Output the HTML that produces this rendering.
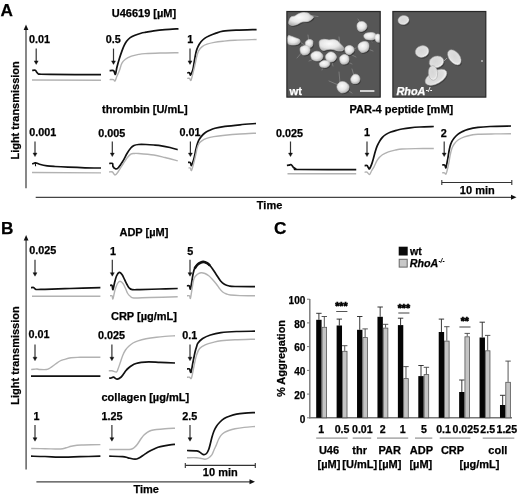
<!DOCTYPE html>
<html><head><meta charset="utf-8"><style>
html,body{margin:0;padding:0;background:#fff;}
svg{display:block;filter:grayscale(1);}
text{font-family:"Liberation Sans",sans-serif;font-weight:bold;fill:#000;stroke:#000;stroke-width:0.25px;}
</style></head><body>
<svg width="520" height="500" viewBox="0 0 520 500">
<rect width="520" height="500" fill="#fff"/>
<text x="0.5" y="16.3" font-size="17.2" text-anchor="start" >A</text>
<line x1="26" y1="28" x2="26" y2="188.3" stroke="#555" stroke-width="1.4"/>
<path d="M23.6 30L28.4 30L26 24.5Z" fill="#111"/>
<text x="19.3" y="110.4" font-size="11.0" text-anchor="middle" transform="rotate(-90 19.3 110.4)">Light transmission</text>
<line x1="35.7" y1="197.3" x2="512" y2="197.3" stroke="#444" stroke-width="1.3"/>
<path d="M511 194.8L511 199.8L516.5 197.3Z" fill="#111"/>
<text x="269.6" y="208.5" font-size="11.0" text-anchor="middle" >Time</text>
<line x1="441.8" y1="182.5" x2="511.8" y2="182.5" stroke="#333" stroke-width="1.1"/>
<line x1="441.8" y1="180" x2="441.8" y2="185" stroke="#333" stroke-width="1.1"/>
<line x1="511.8" y1="180" x2="511.8" y2="185" stroke="#333" stroke-width="1.1"/>
<text x="477.3" y="193.8" font-size="11.0" text-anchor="middle" >10 min</text>
<text x="144.0" y="17.0" font-size="11.0" text-anchor="middle" >U46619 [µM]</text>
<text x="144.8" y="112.9" font-size="11.0" text-anchor="middle" >thrombin [U/mL]</text>
<text x="401.4" y="112.7" font-size="11.0" text-anchor="middle" >PAR-4 peptide [mM]</text>
<text x="29.0" y="43.4" font-size="10.8" text-anchor="start" >0.01</text>
<text x="105.8" y="43.3" font-size="10.8" text-anchor="start" >0.5</text>
<text x="187.3" y="43.3" font-size="10.8" text-anchor="start" >1</text>
<line x1="36.2" y1="48.6" x2="36.2" y2="61.7" stroke="#333" stroke-width="1.2"/>
<path d="M34.2 60.9L38.2 60.9L36.2 64.4Z" fill="#111" stroke="#111" stroke-width="0.4" stroke-linejoin="round"/>
<line x1="113.5" y1="48.6" x2="113.5" y2="61.7" stroke="#333" stroke-width="1.2"/>
<path d="M111.5 60.9L115.5 60.9L113.5 64.4Z" fill="#111" stroke="#111" stroke-width="0.4" stroke-linejoin="round"/>
<line x1="190.0" y1="48.6" x2="190.0" y2="61.7" stroke="#333" stroke-width="1.2"/>
<path d="M188.0 60.9L192.0 60.9L190.0 64.4Z" fill="#111" stroke="#111" stroke-width="0.4" stroke-linejoin="round"/>
<path d="M32.20 70.40C32.72 70.38 34.57 70.03 35.30 70.30C36.03 70.57 36.15 71.45 36.60 72.00C37.05 72.55 37.43 73.23 38.00 73.60C38.57 73.97 38.00 74.07 40.00 74.20C42.00 74.33 39.83 74.32 50.00 74.40C60.17 74.48 92.50 74.65 101.00 74.70" fill="none" stroke="#111" stroke-width="1.70" stroke-linejoin="round" stroke-linecap="butt"/>
<path d="M32.0 80.0L101.0 80.2" fill="none" stroke="#b2b2b2" stroke-width="1.40" stroke-linejoin="round" stroke-linecap="butt"/>
<path d="M109.60 70.60C110.25 70.60 112.68 70.28 113.50 70.60C114.32 70.92 114.17 71.90 114.50 72.50C114.83 73.10 115.08 75.12 115.50 74.20C115.92 73.28 116.35 69.60 117.00 67.00C117.65 64.40 118.60 61.20 119.40 58.60C120.20 56.00 121.00 53.60 121.80 51.40C122.60 49.20 123.40 47.10 124.20 45.40C125.00 43.70 125.60 42.50 126.60 41.20C127.60 39.90 128.80 38.60 130.20 37.60C131.60 36.60 133.20 35.93 135.00 35.20C136.80 34.47 139.17 33.70 141.00 33.20C142.83 32.70 143.87 32.60 146.00 32.20C148.13 31.80 150.63 31.23 153.80 30.80C156.97 30.37 160.88 29.93 165.00 29.60C169.12 29.27 176.25 28.93 178.50 28.80" fill="none" stroke="#111" stroke-width="1.70" stroke-linejoin="round" stroke-linecap="butt"/>
<path d="M109.60 79.60C110.25 79.60 112.60 79.37 113.50 79.60C114.40 79.83 114.42 81.60 115.00 81.00C115.58 80.40 116.27 77.73 117.00 76.00C117.73 74.27 118.60 72.70 119.40 70.60C120.20 68.50 120.80 65.30 121.80 63.40C122.80 61.50 123.80 60.40 125.40 59.20C127.00 58.00 129.20 57.00 131.40 56.20C133.60 55.40 136.33 54.83 138.60 54.40C140.87 53.97 141.43 53.83 145.00 53.60C148.57 53.37 154.42 53.15 160.00 53.00C165.58 52.85 175.42 52.75 178.50 52.70" fill="none" stroke="#b2b2b2" stroke-width="1.40" stroke-linejoin="round" stroke-linecap="butt"/>
<path d="M187.20 72.80C187.58 72.80 188.95 72.43 189.50 72.80C190.05 73.17 189.98 75.37 190.50 75.00C191.02 74.63 192.05 72.33 192.60 70.60C193.15 68.87 193.40 66.80 193.80 64.60C194.20 62.40 194.60 59.60 195.00 57.40C195.40 55.20 195.70 53.20 196.20 51.40C196.70 49.60 197.20 48.20 198.00 46.60C198.80 45.00 199.90 43.17 201.00 41.80C202.10 40.43 203.20 39.40 204.60 38.40C206.00 37.40 207.60 36.63 209.40 35.80C211.20 34.97 213.13 34.17 215.40 33.40C217.67 32.63 219.48 31.73 223.00 31.20C226.52 30.67 230.90 30.47 236.50 30.20C242.10 29.93 253.25 29.70 256.60 29.60" fill="none" stroke="#111" stroke-width="1.70" stroke-linejoin="round" stroke-linecap="butt"/>
<path d="M187.20 78.40C187.58 78.40 188.87 78.07 189.50 78.40C190.13 78.73 190.42 81.30 191.00 80.40C191.58 79.50 192.33 75.63 193.00 73.00C193.67 70.37 194.37 67.40 195.00 64.60C195.63 61.80 196.20 58.50 196.80 56.20C197.40 53.90 197.70 52.40 198.60 50.80C199.50 49.20 200.80 47.70 202.20 46.60C203.60 45.50 205.00 44.90 207.00 44.20C209.00 43.50 211.53 42.90 214.20 42.40C216.87 41.90 219.53 41.57 223.00 41.20C226.47 40.83 229.40 40.48 235.00 40.20C240.60 39.92 253.00 39.62 256.60 39.50" fill="none" stroke="#b2b2b2" stroke-width="1.40" stroke-linejoin="round" stroke-linecap="butt"/>
<text x="29.2" y="136.4" font-size="10.8" text-anchor="start" >0.001</text>
<text x="98.3" y="136.8" font-size="10.8" text-anchor="start" >0.005</text>
<text x="179.5" y="136.4" font-size="10.8" text-anchor="start" >0.01</text>
<text x="275.9" y="136.5" font-size="10.8" text-anchor="start" >0.025</text>
<text x="364.0" y="136.4" font-size="10.8" text-anchor="start" >1</text>
<text x="440.8" y="136.5" font-size="10.8" text-anchor="start" >2</text>
<line x1="35.0" y1="141.5" x2="35.0" y2="153.9" stroke="#333" stroke-width="1.2"/>
<path d="M33.0 153.1L37.0 153.1L35.0 156.6Z" fill="#111" stroke="#111" stroke-width="0.4" stroke-linejoin="round"/>
<line x1="112.3" y1="141.5" x2="112.3" y2="153.9" stroke="#333" stroke-width="1.2"/>
<path d="M110.3 153.1L114.3 153.1L112.3 156.6Z" fill="#111" stroke="#111" stroke-width="0.4" stroke-linejoin="round"/>
<line x1="190.4" y1="141.5" x2="190.4" y2="153.9" stroke="#333" stroke-width="1.2"/>
<path d="M188.4 153.1L192.4 153.1L190.4 156.6Z" fill="#111" stroke="#111" stroke-width="0.4" stroke-linejoin="round"/>
<line x1="290.5" y1="141.5" x2="290.5" y2="153.9" stroke="#333" stroke-width="1.2"/>
<path d="M288.5 153.1L292.5 153.1L290.5 156.6Z" fill="#111" stroke="#111" stroke-width="0.4" stroke-linejoin="round"/>
<line x1="367.0" y1="141.5" x2="367.0" y2="153.9" stroke="#333" stroke-width="1.2"/>
<path d="M365.0 153.1L369.0 153.1L367.0 156.6Z" fill="#111" stroke="#111" stroke-width="0.4" stroke-linejoin="round"/>
<line x1="444.2" y1="141.5" x2="444.2" y2="153.9" stroke="#333" stroke-width="1.2"/>
<path d="M442.2 153.1L446.2 153.1L444.2 156.6Z" fill="#111" stroke="#111" stroke-width="0.4" stroke-linejoin="round"/>
<path d="M32.20 164.00C32.50 163.87 33.42 163.40 34.00 163.20C34.58 163.00 34.78 162.63 35.70 162.80C36.62 162.97 37.58 163.70 39.50 164.20C41.42 164.70 44.63 165.42 47.20 165.80C49.77 166.18 51.43 166.27 54.90 166.50C58.37 166.73 62.98 166.98 68.00 167.20C73.02 167.42 79.50 167.67 85.00 167.80C90.50 167.93 98.33 167.97 101.00 168.00" fill="none" stroke="#111" stroke-width="1.70" stroke-linejoin="round" stroke-linecap="butt"/>
<line x1="35.3" y1="163" x2="35.6" y2="166.3" stroke="#111" stroke-width="1.1"/>
<path d="M32.0 172.5L101.0 172.9" fill="none" stroke="#b2b2b2" stroke-width="1.40" stroke-linejoin="round" stroke-linecap="butt"/>
<path d="M109.20 163.50C109.75 163.50 111.87 163.00 112.50 163.50C113.13 164.00 112.52 165.62 113.00 166.50C113.48 167.38 114.57 168.55 115.40 168.80C116.23 169.05 116.73 169.30 118.00 168.00C119.27 166.70 121.50 163.42 123.00 161.00C124.50 158.58 125.70 155.67 127.00 153.50C128.30 151.33 129.63 149.33 130.80 148.00C131.97 146.67 132.72 146.08 134.00 145.50C135.28 144.92 136.50 144.67 138.50 144.50C140.50 144.33 143.42 144.42 146.00 144.50C148.58 144.58 151.42 144.78 154.00 145.00C156.58 145.22 158.83 145.38 161.50 145.80C164.17 146.22 167.30 146.87 170.00 147.50C172.70 148.13 176.42 149.25 177.70 149.60" fill="none" stroke="#111" stroke-width="1.70" stroke-linejoin="round" stroke-linecap="butt"/>
<path d="M109.00 172.00C109.58 172.00 111.50 171.50 112.50 172.00C113.50 172.50 114.08 175.00 115.00 175.00C115.92 175.00 116.67 173.83 118.00 172.00C119.33 170.17 121.50 166.33 123.00 164.00C124.50 161.67 125.70 159.63 127.00 158.00C128.30 156.37 129.63 154.95 130.80 154.20C131.97 153.45 132.72 153.62 134.00 153.50C135.28 153.38 135.20 153.25 138.50 153.50C141.80 153.75 149.38 154.33 153.80 155.00C158.22 155.67 161.02 156.53 165.00 157.50C168.98 158.47 175.58 160.25 177.70 160.80" fill="none" stroke="#b2b2b2" stroke-width="1.40" stroke-linejoin="round" stroke-linecap="butt"/>
<path d="M188.00 162.40C188.33 162.40 189.53 162.13 190.00 162.40C190.47 162.67 190.55 163.48 190.80 164.00C191.05 164.52 191.07 166.07 191.50 165.50C191.93 164.93 192.88 162.22 193.40 160.60C193.92 158.98 194.20 157.60 194.60 155.80C195.00 154.00 195.40 151.60 195.80 149.80C196.20 148.00 196.50 146.60 197.00 145.00C197.50 143.40 198.10 141.60 198.80 140.20C199.50 138.80 200.20 137.80 201.20 136.60C202.20 135.40 203.50 134.00 204.80 133.00C206.10 132.00 207.30 131.40 209.00 130.60C210.70 129.80 212.33 128.90 215.00 128.20C217.67 127.50 220.83 126.97 225.00 126.40C229.17 125.83 234.83 125.28 240.00 124.80C245.17 124.32 253.33 123.72 256.00 123.50" fill="none" stroke="#111" stroke-width="1.70" stroke-linejoin="round" stroke-linecap="butt"/>
<path d="M188.50 168.00C188.80 168.00 189.80 167.58 190.30 168.00C190.80 168.42 190.97 171.17 191.50 170.50C192.03 169.83 192.78 166.65 193.50 164.00C194.22 161.35 195.22 157.17 195.80 154.60C196.38 152.03 196.50 150.40 197.00 148.60C197.50 146.80 198.00 145.10 198.80 143.80C199.60 142.50 200.50 141.70 201.80 140.80C203.10 139.90 204.60 139.10 206.60 138.40C208.60 137.70 210.73 137.13 213.80 136.60C216.87 136.07 220.63 135.63 225.00 135.20C229.37 134.77 234.83 134.33 240.00 134.00C245.17 133.67 253.33 133.33 256.00 133.20" fill="none" stroke="#b2b2b2" stroke-width="1.40" stroke-linejoin="round" stroke-linecap="butt"/>
<path d="M286.90 165.40C287.25 165.37 288.35 165.33 289.00 165.20C289.65 165.07 290.30 164.55 290.80 164.60C291.30 164.65 291.55 165.02 292.00 165.50C292.45 165.98 292.83 166.92 293.50 167.50C294.17 168.08 294.92 168.67 296.00 169.00C297.08 169.33 289.96 169.40 300.00 169.50C310.04 169.60 346.88 169.58 356.25 169.60" fill="none" stroke="#111" stroke-width="1.70" stroke-linejoin="round" stroke-linecap="butt"/>
<path d="M287.5 173.7L356.2 173.8" fill="none" stroke="#b2b2b2" stroke-width="1.40" stroke-linejoin="round" stroke-linecap="butt"/>
<path d="M364.60 165.60C365.00 165.60 366.38 165.28 367.00 165.60C367.62 165.92 367.88 166.97 368.30 167.50C368.72 168.03 368.95 169.32 369.50 168.80C370.05 168.28 370.95 166.13 371.60 164.40C372.25 162.67 372.80 160.50 373.40 158.40C374.00 156.30 374.60 153.80 375.20 151.80C375.80 149.80 376.30 148.10 377.00 146.40C377.70 144.70 378.50 143.10 379.40 141.60C380.30 140.10 381.30 138.60 382.40 137.40C383.50 136.20 384.60 135.30 386.00 134.40C387.40 133.50 389.00 132.70 390.80 132.00C392.60 131.30 394.93 130.70 396.80 130.20C398.67 129.70 399.80 129.40 402.00 129.00C404.20 128.60 407.00 128.13 410.00 127.80C413.00 127.47 416.03 127.22 420.00 127.00C423.97 126.78 431.50 126.58 433.80 126.50" fill="none" stroke="#111" stroke-width="1.70" stroke-linejoin="round" stroke-linecap="butt"/>
<path d="M364.60 172.20C365.00 172.20 366.18 171.82 367.00 172.20C367.82 172.58 368.75 174.70 369.50 174.50C370.25 174.30 370.75 172.28 371.50 171.00C372.25 169.72 372.98 168.70 374.00 166.80C375.02 164.90 376.20 161.60 377.60 159.60C379.00 157.60 380.60 156.10 382.40 154.80C384.20 153.50 386.20 152.60 388.40 151.80C390.60 151.00 393.33 150.47 395.60 150.00C397.87 149.53 398.77 149.23 402.00 149.00C405.23 148.77 409.70 148.68 415.00 148.60C420.30 148.52 430.67 148.52 433.80 148.50" fill="none" stroke="#b2b2b2" stroke-width="1.40" stroke-linejoin="round" stroke-linecap="butt"/>
<path d="M442.20 165.00C442.58 165.00 443.98 164.78 444.50 165.00C445.02 165.22 445.05 165.88 445.30 166.30C445.55 166.72 445.62 168.62 446.00 167.50C446.38 166.38 447.13 162.12 447.60 159.60C448.07 157.08 448.40 154.60 448.80 152.40C449.20 150.20 449.50 148.20 450.00 146.40C450.50 144.60 451.10 143.00 451.80 141.60C452.50 140.20 453.20 139.20 454.20 138.00C455.20 136.80 456.50 135.43 457.80 134.40C459.10 133.37 460.30 132.63 462.00 131.80C463.70 130.97 465.33 130.13 468.00 129.40C470.67 128.67 474.33 127.88 478.00 127.40C481.67 126.92 484.50 126.73 490.00 126.50C495.50 126.27 507.50 126.08 511.00 126.00" fill="none" stroke="#111" stroke-width="1.70" stroke-linejoin="round" stroke-linecap="butt"/>
<path d="M442.20 172.80C442.58 172.80 443.87 172.60 444.50 172.80C445.13 173.00 445.50 174.63 446.00 174.00C446.50 173.37 447.03 170.80 447.50 169.00C447.97 167.20 448.38 165.37 448.80 163.20C449.22 161.03 449.50 158.40 450.00 156.00C450.50 153.60 451.10 150.80 451.80 148.80C452.50 146.80 453.10 145.50 454.20 144.00C455.30 142.50 456.70 141.00 458.40 139.80C460.10 138.60 462.20 137.60 464.40 136.80C466.60 136.00 469.33 135.43 471.60 135.00C473.87 134.57 474.10 134.38 478.00 134.20C481.90 134.02 489.50 133.97 495.00 133.90C500.50 133.83 508.33 133.82 511.00 133.80" fill="none" stroke="#b2b2b2" stroke-width="1.40" stroke-linejoin="round" stroke-linecap="butt"/>
<defs>
<radialGradient id="pl" cx="42%" cy="38%" r="68%"><stop offset="0" stop-color="#fbfbfb"/><stop offset="0.55" stop-color="#e6e6e6"/><stop offset="1" stop-color="#aaaaaa"/></radialGradient>
<radialGradient id="rh" cx="45%" cy="42%" r="58%"><stop offset="0" stop-color="#d6d6d6"/><stop offset="0.7" stop-color="#dedede"/><stop offset="1" stop-color="#f8f8f8"/></radialGradient>
<clipPath id="cw"><rect x="287.4" y="12" width="92.3" height="85"/></clipPath>
<clipPath id="cr"><rect x="393.4" y="12" width="91.9" height="85"/></clipPath>
</defs>
<rect x="286.9" y="11.5" width="93.3" height="85.6" fill="#565656" stroke="#262626" stroke-width="1.2"/>
<g clip-path="url(#cw)">
<g stroke="#858585" stroke-width="0.8" fill="none" stroke-linecap="round"><path d="M311 15.5L318 16.5M300 42L306 46M346 52L356 57M344 60L352 64M343 87L329 81M344 88L352 93M355 79L352 69M339 72L340 83M309 43L308 35M340 47L339 37M363 47L373 51M293 41L287 38M304 50L297 58M316 58L309 61M362 26L358 19M369 37L372 42M324 64L322 70M331 58L333 66M348 52L356 48"/></g>
<path d="M289.00 21.00C289.33 19.83 290.00 17.83 291.00 17.00C292.00 16.17 293.83 16.50 295.00 16.00C296.17 15.50 296.67 14.58 298.00 14.00C299.33 13.42 301.33 12.67 303.00 12.50C304.67 12.33 306.67 12.50 308.00 13.00C309.33 13.50 310.08 14.83 311.00 15.50C311.92 16.17 313.42 16.33 313.50 17.00C313.58 17.67 312.42 18.75 311.50 19.50C310.58 20.25 309.58 21.08 308.00 21.50C306.42 21.92 303.83 21.50 302.00 22.00C300.17 22.50 298.67 23.92 297.00 24.50C295.33 25.08 293.33 25.58 292.00 25.50C290.67 25.42 289.50 24.75 289.00 24.00C288.50 23.25 288.67 22.17 289.00 21.00Z" fill="#3a3a3a" transform="translate(0.9 1.3)"/>
<path d="M288.00 36.00C288.67 34.83 290.67 36.17 292.00 36.50C293.33 36.83 294.75 37.50 296.00 38.00C297.25 38.50 298.83 38.75 299.50 39.50C300.17 40.25 300.42 41.67 300.00 42.50C299.58 43.33 298.33 44.08 297.00 44.50C295.67 44.92 293.50 45.17 292.00 45.00C290.50 44.83 288.67 45.00 288.00 43.50C287.33 42.00 287.33 37.17 288.00 36.00Z" fill="#3a3a3a" transform="translate(0.9 1.3)"/>
<path d="M305.50 42.00C306.00 40.92 307.83 39.75 309.00 39.50C310.17 39.25 311.83 39.83 312.50 40.50C313.17 41.17 313.08 42.50 313.00 43.50C312.92 44.50 312.67 45.83 312.00 46.50C311.33 47.17 310.00 47.58 309.00 47.50C308.00 47.42 306.58 46.92 306.00 46.00C305.42 45.08 305.00 43.08 305.50 42.00Z" fill="#3a3a3a" transform="translate(0.9 1.3)"/>
<path d="M300.50 47.50C301.25 46.42 303.58 45.67 305.00 45.50C306.42 45.33 308.17 45.67 309.00 46.50C309.83 47.33 310.17 49.25 310.00 50.50C309.83 51.75 309.17 53.25 308.00 54.00C306.83 54.75 304.25 55.33 303.00 55.00C301.75 54.67 300.92 53.25 300.50 52.00C300.08 50.75 299.75 48.58 300.50 47.50Z" fill="#3a3a3a" transform="translate(0.9 1.3)"/>
<path d="M319.50 41.00C320.17 39.63 322.42 39.47 324.00 39.30C325.58 39.13 327.50 39.97 329.00 40.00C330.50 40.03 331.67 39.42 333.00 39.50C334.33 39.58 335.83 39.83 337.00 40.50C338.17 41.17 338.92 42.33 340.00 43.50C341.08 44.67 343.00 46.33 343.50 47.50C344.00 48.67 343.92 49.92 343.00 50.50C342.08 51.08 339.67 51.17 338.00 51.00C336.33 50.83 334.67 49.75 333.00 49.50C331.33 49.25 329.67 49.33 328.00 49.50C326.33 49.67 324.33 50.83 323.00 50.50C321.67 50.17 320.58 49.08 320.00 47.50C319.42 45.92 318.83 42.37 319.50 41.00Z" fill="#3a3a3a" transform="translate(0.9 1.3)"/>
<path d="M345.00 48.00C345.50 46.75 347.67 45.67 349.00 45.50C350.33 45.33 352.17 46.08 353.00 47.00C353.83 47.92 354.50 49.75 354.00 51.00C353.50 52.25 351.33 54.17 350.00 54.50C348.67 54.83 346.83 54.08 346.00 53.00C345.17 51.92 344.50 49.25 345.00 48.00Z" fill="#3a3a3a" transform="translate(0.9 1.3)"/>
<path d="M357.00 25.00C357.17 23.67 358.08 22.58 359.00 22.00C359.92 21.42 361.42 21.33 362.50 21.50C363.58 21.67 364.75 22.17 365.50 23.00C366.25 23.83 367.08 25.33 367.00 26.50C366.92 27.67 366.00 29.17 365.00 30.00C364.00 30.83 362.17 31.50 361.00 31.50C359.83 31.50 358.67 31.08 358.00 30.00C357.33 28.92 356.83 26.33 357.00 25.00Z" fill="#3a3a3a" transform="translate(0.9 1.3)"/>
<path d="M364.00 35.00C364.42 34.17 365.67 33.42 367.00 33.00C368.33 32.58 370.58 32.33 372.00 32.50C373.42 32.67 374.92 33.08 375.50 34.00C376.08 34.92 376.08 37.00 375.50 38.00C374.92 39.00 373.42 39.75 372.00 40.00C370.58 40.25 368.25 39.83 367.00 39.50C365.75 39.17 365.00 38.75 364.50 38.00C364.00 37.25 363.58 35.83 364.00 35.00Z" fill="#3a3a3a" transform="translate(0.9 1.3)"/>
<path d="M375.00 35.50C375.50 34.67 377.08 33.92 378.00 34.00C378.92 34.08 380.08 34.75 380.50 36.00C380.92 37.25 381.08 40.50 380.50 41.50C379.92 42.50 377.92 42.42 377.00 42.00C376.08 41.58 375.33 40.08 375.00 39.00C374.67 37.92 374.50 36.33 375.00 35.50Z" fill="#3a3a3a" transform="translate(0.9 1.3)"/>
<path d="M358.00 46.00C358.17 44.83 359.00 43.75 360.00 43.00C361.00 42.25 362.67 41.58 364.00 41.50C365.33 41.42 367.17 41.58 368.00 42.50C368.83 43.42 369.17 45.58 369.00 47.00C368.83 48.42 368.17 50.08 367.00 51.00C365.83 51.92 363.33 52.67 362.00 52.50C360.67 52.33 359.67 51.08 359.00 50.00C358.33 48.92 357.83 47.17 358.00 46.00Z" fill="#3a3a3a" transform="translate(0.9 1.3)"/>
<path d="M311.00 54.50C311.50 53.25 313.50 51.92 315.00 51.50C316.50 51.08 318.67 51.25 320.00 52.00C321.33 52.75 322.83 54.67 323.00 56.00C323.17 57.33 322.17 59.17 321.00 60.00C319.83 60.83 317.50 61.17 316.00 61.00C314.50 60.83 312.83 60.08 312.00 59.00C311.17 57.92 310.50 55.75 311.00 54.50Z" fill="#3a3a3a" transform="translate(0.9 1.3)"/>
<path d="M326.00 55.00C326.67 53.83 328.67 52.33 330.00 52.00C331.33 51.67 332.92 52.17 334.00 53.00C335.08 53.83 336.50 55.67 336.50 57.00C336.50 58.33 335.25 60.17 334.00 61.00C332.75 61.83 330.33 62.33 329.00 62.00C327.67 61.67 326.50 60.17 326.00 59.00C325.50 57.83 325.33 56.17 326.00 55.00Z" fill="#3a3a3a" transform="translate(0.9 1.3)"/>
<path d="M320.00 62.50C320.75 61.83 322.50 60.67 324.00 60.50C325.50 60.33 328.08 60.75 329.00 61.50C329.92 62.25 330.00 64.00 329.50 65.00C329.00 66.00 327.42 67.17 326.00 67.50C324.58 67.83 322.08 67.50 321.00 67.00C319.92 66.50 319.67 65.25 319.50 64.50C319.33 63.75 319.25 63.17 320.00 62.50Z" fill="#3a3a3a" transform="translate(0.9 1.3)"/>
<path d="M340.00 57.00C340.67 55.92 342.67 54.67 344.00 54.50C345.33 54.33 347.17 55.08 348.00 56.00C348.83 56.92 349.17 58.75 349.00 60.00C348.83 61.25 348.17 62.83 347.00 63.50C345.83 64.17 343.17 64.42 342.00 64.00C340.83 63.58 340.33 62.17 340.00 61.00C339.67 59.83 339.33 58.08 340.00 57.00Z" fill="#3a3a3a" transform="translate(0.9 1.3)"/>
<path d="M351.00 78.00C351.50 76.92 352.83 75.00 354.00 74.50C355.17 74.00 357.00 74.25 358.00 75.00C359.00 75.75 360.00 77.67 360.00 79.00C360.00 80.33 359.17 82.25 358.00 83.00C356.83 83.75 354.17 83.83 353.00 83.50C351.83 83.17 351.33 81.92 351.00 81.00C350.67 80.08 350.50 79.08 351.00 78.00Z" fill="#3a3a3a" transform="translate(0.9 1.3)"/>
<path d="M337.00 86.00C337.33 84.67 338.67 82.67 340.00 82.00C341.33 81.33 343.50 81.33 345.00 82.00C346.50 82.67 348.58 84.50 349.00 86.00C349.42 87.50 348.75 89.83 347.50 91.00C346.25 92.17 343.08 93.17 341.50 93.00C339.92 92.83 338.75 91.17 338.00 90.00C337.25 88.83 336.67 87.33 337.00 86.00Z" fill="#3a3a3a" transform="translate(0.9 1.3)"/>
<path d="M289.00 21.00C289.33 19.83 290.00 17.83 291.00 17.00C292.00 16.17 293.83 16.50 295.00 16.00C296.17 15.50 296.67 14.58 298.00 14.00C299.33 13.42 301.33 12.67 303.00 12.50C304.67 12.33 306.67 12.50 308.00 13.00C309.33 13.50 310.08 14.83 311.00 15.50C311.92 16.17 313.42 16.33 313.50 17.00C313.58 17.67 312.42 18.75 311.50 19.50C310.58 20.25 309.58 21.08 308.00 21.50C306.42 21.92 303.83 21.50 302.00 22.00C300.17 22.50 298.67 23.92 297.00 24.50C295.33 25.08 293.33 25.58 292.00 25.50C290.67 25.42 289.50 24.75 289.00 24.00C288.50 23.25 288.67 22.17 289.00 21.00Z" fill="url(#pl)" stroke="#c8c8c8" stroke-width="0.6"/>
<path d="M288.00 36.00C288.67 34.83 290.67 36.17 292.00 36.50C293.33 36.83 294.75 37.50 296.00 38.00C297.25 38.50 298.83 38.75 299.50 39.50C300.17 40.25 300.42 41.67 300.00 42.50C299.58 43.33 298.33 44.08 297.00 44.50C295.67 44.92 293.50 45.17 292.00 45.00C290.50 44.83 288.67 45.00 288.00 43.50C287.33 42.00 287.33 37.17 288.00 36.00Z" fill="url(#pl)" stroke="#c8c8c8" stroke-width="0.6"/>
<path d="M305.50 42.00C306.00 40.92 307.83 39.75 309.00 39.50C310.17 39.25 311.83 39.83 312.50 40.50C313.17 41.17 313.08 42.50 313.00 43.50C312.92 44.50 312.67 45.83 312.00 46.50C311.33 47.17 310.00 47.58 309.00 47.50C308.00 47.42 306.58 46.92 306.00 46.00C305.42 45.08 305.00 43.08 305.50 42.00Z" fill="url(#pl)" stroke="#c8c8c8" stroke-width="0.6"/>
<path d="M300.50 47.50C301.25 46.42 303.58 45.67 305.00 45.50C306.42 45.33 308.17 45.67 309.00 46.50C309.83 47.33 310.17 49.25 310.00 50.50C309.83 51.75 309.17 53.25 308.00 54.00C306.83 54.75 304.25 55.33 303.00 55.00C301.75 54.67 300.92 53.25 300.50 52.00C300.08 50.75 299.75 48.58 300.50 47.50Z" fill="url(#pl)" stroke="#c8c8c8" stroke-width="0.6"/>
<path d="M319.50 41.00C320.17 39.63 322.42 39.47 324.00 39.30C325.58 39.13 327.50 39.97 329.00 40.00C330.50 40.03 331.67 39.42 333.00 39.50C334.33 39.58 335.83 39.83 337.00 40.50C338.17 41.17 338.92 42.33 340.00 43.50C341.08 44.67 343.00 46.33 343.50 47.50C344.00 48.67 343.92 49.92 343.00 50.50C342.08 51.08 339.67 51.17 338.00 51.00C336.33 50.83 334.67 49.75 333.00 49.50C331.33 49.25 329.67 49.33 328.00 49.50C326.33 49.67 324.33 50.83 323.00 50.50C321.67 50.17 320.58 49.08 320.00 47.50C319.42 45.92 318.83 42.37 319.50 41.00Z" fill="url(#pl)" stroke="#c8c8c8" stroke-width="0.6"/>
<path d="M345.00 48.00C345.50 46.75 347.67 45.67 349.00 45.50C350.33 45.33 352.17 46.08 353.00 47.00C353.83 47.92 354.50 49.75 354.00 51.00C353.50 52.25 351.33 54.17 350.00 54.50C348.67 54.83 346.83 54.08 346.00 53.00C345.17 51.92 344.50 49.25 345.00 48.00Z" fill="url(#pl)" stroke="#c8c8c8" stroke-width="0.6"/>
<path d="M357.00 25.00C357.17 23.67 358.08 22.58 359.00 22.00C359.92 21.42 361.42 21.33 362.50 21.50C363.58 21.67 364.75 22.17 365.50 23.00C366.25 23.83 367.08 25.33 367.00 26.50C366.92 27.67 366.00 29.17 365.00 30.00C364.00 30.83 362.17 31.50 361.00 31.50C359.83 31.50 358.67 31.08 358.00 30.00C357.33 28.92 356.83 26.33 357.00 25.00Z" fill="url(#pl)" stroke="#c8c8c8" stroke-width="0.6"/>
<path d="M364.00 35.00C364.42 34.17 365.67 33.42 367.00 33.00C368.33 32.58 370.58 32.33 372.00 32.50C373.42 32.67 374.92 33.08 375.50 34.00C376.08 34.92 376.08 37.00 375.50 38.00C374.92 39.00 373.42 39.75 372.00 40.00C370.58 40.25 368.25 39.83 367.00 39.50C365.75 39.17 365.00 38.75 364.50 38.00C364.00 37.25 363.58 35.83 364.00 35.00Z" fill="url(#pl)" stroke="#c8c8c8" stroke-width="0.6"/>
<path d="M375.00 35.50C375.50 34.67 377.08 33.92 378.00 34.00C378.92 34.08 380.08 34.75 380.50 36.00C380.92 37.25 381.08 40.50 380.50 41.50C379.92 42.50 377.92 42.42 377.00 42.00C376.08 41.58 375.33 40.08 375.00 39.00C374.67 37.92 374.50 36.33 375.00 35.50Z" fill="url(#pl)" stroke="#c8c8c8" stroke-width="0.6"/>
<path d="M358.00 46.00C358.17 44.83 359.00 43.75 360.00 43.00C361.00 42.25 362.67 41.58 364.00 41.50C365.33 41.42 367.17 41.58 368.00 42.50C368.83 43.42 369.17 45.58 369.00 47.00C368.83 48.42 368.17 50.08 367.00 51.00C365.83 51.92 363.33 52.67 362.00 52.50C360.67 52.33 359.67 51.08 359.00 50.00C358.33 48.92 357.83 47.17 358.00 46.00Z" fill="url(#pl)" stroke="#c8c8c8" stroke-width="0.6"/>
<path d="M311.00 54.50C311.50 53.25 313.50 51.92 315.00 51.50C316.50 51.08 318.67 51.25 320.00 52.00C321.33 52.75 322.83 54.67 323.00 56.00C323.17 57.33 322.17 59.17 321.00 60.00C319.83 60.83 317.50 61.17 316.00 61.00C314.50 60.83 312.83 60.08 312.00 59.00C311.17 57.92 310.50 55.75 311.00 54.50Z" fill="url(#pl)" stroke="#c8c8c8" stroke-width="0.6"/>
<path d="M326.00 55.00C326.67 53.83 328.67 52.33 330.00 52.00C331.33 51.67 332.92 52.17 334.00 53.00C335.08 53.83 336.50 55.67 336.50 57.00C336.50 58.33 335.25 60.17 334.00 61.00C332.75 61.83 330.33 62.33 329.00 62.00C327.67 61.67 326.50 60.17 326.00 59.00C325.50 57.83 325.33 56.17 326.00 55.00Z" fill="url(#pl)" stroke="#c8c8c8" stroke-width="0.6"/>
<path d="M320.00 62.50C320.75 61.83 322.50 60.67 324.00 60.50C325.50 60.33 328.08 60.75 329.00 61.50C329.92 62.25 330.00 64.00 329.50 65.00C329.00 66.00 327.42 67.17 326.00 67.50C324.58 67.83 322.08 67.50 321.00 67.00C319.92 66.50 319.67 65.25 319.50 64.50C319.33 63.75 319.25 63.17 320.00 62.50Z" fill="url(#pl)" stroke="#c8c8c8" stroke-width="0.6"/>
<path d="M340.00 57.00C340.67 55.92 342.67 54.67 344.00 54.50C345.33 54.33 347.17 55.08 348.00 56.00C348.83 56.92 349.17 58.75 349.00 60.00C348.83 61.25 348.17 62.83 347.00 63.50C345.83 64.17 343.17 64.42 342.00 64.00C340.83 63.58 340.33 62.17 340.00 61.00C339.67 59.83 339.33 58.08 340.00 57.00Z" fill="url(#pl)" stroke="#c8c8c8" stroke-width="0.6"/>
<path d="M351.00 78.00C351.50 76.92 352.83 75.00 354.00 74.50C355.17 74.00 357.00 74.25 358.00 75.00C359.00 75.75 360.00 77.67 360.00 79.00C360.00 80.33 359.17 82.25 358.00 83.00C356.83 83.75 354.17 83.83 353.00 83.50C351.83 83.17 351.33 81.92 351.00 81.00C350.67 80.08 350.50 79.08 351.00 78.00Z" fill="url(#pl)" stroke="#c8c8c8" stroke-width="0.6"/>
<path d="M337.00 86.00C337.33 84.67 338.67 82.67 340.00 82.00C341.33 81.33 343.50 81.33 345.00 82.00C346.50 82.67 348.58 84.50 349.00 86.00C349.42 87.50 348.75 89.83 347.50 91.00C346.25 92.17 343.08 93.17 341.50 93.00C339.92 92.83 338.75 91.17 338.00 90.00C337.25 88.83 336.67 87.33 337.00 86.00Z" fill="url(#pl)" stroke="#c8c8c8" stroke-width="0.6"/>
</g>
<line x1="360" y1="91" x2="374.4" y2="91" stroke="#eee" stroke-width="1.6"/>
<text x="289.6" y="95.3" font-size="11.2" text-anchor="start" style="fill:#fff;stroke:#fff">wt</text>
<rect x="392.9" y="11.5" width="92.9" height="85.6" fill="#565656" stroke="#262626" stroke-width="1.2"/>
<g clip-path="url(#cr)">
<ellipse cx="403.5" cy="20.1" rx="5.6" ry="4.6" fill="#3e3e3e" transform="translate(0.8 1.3) rotate(-10 403.5 20.1)"/>
<ellipse cx="422.1" cy="51.5" rx="6.9" ry="5.8" fill="#3e3e3e" transform="translate(0.8 1.3) rotate(-15 422.1 51.5)"/>
<ellipse cx="454.4" cy="57.3" rx="8.7" ry="5.3" fill="#3e3e3e" transform="translate(0.8 1.3) rotate(52 454.4 57.3)"/>
<ellipse cx="436.0" cy="77.3" rx="12.0" ry="6.3" fill="#3e3e3e" transform="translate(0.8 1.3) rotate(-30 436.0 77.3)"/>
<ellipse cx="436.5" cy="61.9" rx="7.4" ry="5.8" fill="#3e3e3e" transform="translate(0.8 1.3) rotate(-15 436.5 61.9)"/>
<ellipse cx="433.0" cy="72.9" rx="4.6" ry="7.3" fill="#3e3e3e" transform="translate(0.8 1.3) rotate(-5 433.0 72.9)"/>
<ellipse cx="403.5" cy="20.1" rx="5.6" ry="4.6" fill="url(#rh)" stroke="#9a9a9a" stroke-width="0.5" transform="rotate(-10 403.5 20.1)"/>
<ellipse cx="422.1" cy="51.5" rx="6.9" ry="5.8" fill="url(#rh)" stroke="#9a9a9a" stroke-width="0.5" transform="rotate(-15 422.1 51.5)"/>
<ellipse cx="454.4" cy="57.3" rx="8.7" ry="5.3" fill="url(#rh)" stroke="#9a9a9a" stroke-width="0.5" transform="rotate(52 454.4 57.3)"/>
<ellipse cx="436.0" cy="77.3" rx="12.0" ry="6.3" fill="url(#rh)" stroke="#9a9a9a" stroke-width="0.5" transform="rotate(-30 436.0 77.3)"/>
<ellipse cx="436.5" cy="61.9" rx="7.4" ry="5.8" fill="url(#rh)" stroke="#9a9a9a" stroke-width="0.5" transform="rotate(-15 436.5 61.9)"/>
<ellipse cx="433.0" cy="72.9" rx="4.6" ry="7.3" fill="url(#rh)" stroke="#9a9a9a" stroke-width="0.5" transform="rotate(-5 433.0 72.9)"/>
<line x1="443" y1="62" x2="447" y2="58" stroke="#aaa" stroke-width="0.8"/>
<circle cx="482" cy="61" r="1" fill="#bbb"/>
</g>
<text x="396.4" y="94.8" font-size="10.9" text-anchor="start" style="fill:#fff;stroke:#fff" font-style="italic">RhoA</text>
<text x="425.8" y="92.0" font-size="6.8" text-anchor="start" style="fill:#fff;stroke:none" font-style="italic">-/-</text>
<text x="1.0" y="233.6" font-size="17.2" text-anchor="start" >B</text>
<line x1="26.1" y1="238" x2="26.1" y2="469.6" stroke="#555" stroke-width="1.4"/>
<path d="M23.7 240.5L28.5 240.5L26.1 235Z" fill="#111"/>
<text x="19.3" y="355.5" font-size="11.0" text-anchor="middle" transform="rotate(-90 19.3 355.5)">Light transmission</text>
<line x1="36.4" y1="481.8" x2="250" y2="481.8" stroke="#444" stroke-width="1.3"/>
<path d="M249.5 479.3L249.5 484.3L255 481.8Z" fill="#111"/>
<text x="146.2" y="493.1" font-size="11.0" text-anchor="middle" >Time</text>
<line x1="185.3" y1="465.4" x2="255.3" y2="465.4" stroke="#333" stroke-width="1.1"/>
<line x1="185.3" y1="462.9" x2="185.3" y2="467.9" stroke="#333" stroke-width="1.1"/>
<line x1="255.3" y1="462.9" x2="255.3" y2="467.9" stroke="#333" stroke-width="1.1"/>
<text x="220.3" y="475.6" font-size="11.0" text-anchor="middle" >10 min</text>
<text x="143.9" y="235.8" font-size="11.0" text-anchor="middle" >ADP [µM]</text>
<text x="144.0" y="320.2" font-size="11.0" text-anchor="middle" >CRP [µg/mL]</text>
<text x="145.3" y="400.9" font-size="11.0" text-anchor="middle" >collagen [µg/mL]</text>
<text x="29.2" y="254.1" font-size="10.8" text-anchor="start" >0.025</text>
<text x="109.9" y="255.2" font-size="10.8" text-anchor="start" >1</text>
<text x="187.2" y="255.2" font-size="10.8" text-anchor="start" >5</text>
<line x1="35.0" y1="259.7" x2="35.0" y2="273.5" stroke="#333" stroke-width="1.2"/>
<path d="M33.0 272.7L37.0 272.7L35.0 276.2Z" fill="#111" stroke="#111" stroke-width="0.4" stroke-linejoin="round"/>
<line x1="112.3" y1="259.7" x2="112.3" y2="273.5" stroke="#333" stroke-width="1.2"/>
<path d="M110.3 272.7L114.3 272.7L112.3 276.2Z" fill="#111" stroke="#111" stroke-width="0.4" stroke-linejoin="round"/>
<line x1="190.0" y1="259.7" x2="190.0" y2="273.5" stroke="#333" stroke-width="1.2"/>
<path d="M188.0 272.7L192.0 272.7L190.0 276.2Z" fill="#111" stroke="#111" stroke-width="0.4" stroke-linejoin="round"/>
<path d="M31.00 287.70C31.42 287.67 32.83 287.32 33.50 287.50C34.17 287.68 34.42 288.47 35.00 288.80C35.58 289.13 35.33 289.42 37.00 289.50C38.67 289.58 39.50 289.47 45.00 289.30C50.50 289.13 60.77 288.77 70.00 288.50C79.23 288.23 95.33 287.83 100.40 287.70" fill="none" stroke="#111" stroke-width="1.70" stroke-linejoin="round" stroke-linecap="butt"/>
<path d="M32.0 296.2L100.4 296.2" fill="none" stroke="#b2b2b2" stroke-width="1.40" stroke-linejoin="round" stroke-linecap="butt"/>
<path d="M110.00 285.50C110.33 285.50 111.50 284.82 112.00 285.50C112.50 286.18 112.58 290.02 113.00 289.60C113.42 289.18 113.92 285.27 114.50 283.00C115.08 280.73 115.72 277.77 116.50 276.00C117.28 274.23 118.28 272.65 119.20 272.40C120.12 272.15 121.10 273.30 122.00 274.50C122.90 275.70 123.77 277.93 124.60 279.60C125.43 281.27 126.23 283.10 127.00 284.50C127.77 285.90 128.32 287.15 129.20 288.00C130.08 288.85 130.50 289.33 132.30 289.60C134.10 289.87 135.38 289.70 140.00 289.60C144.62 289.50 153.72 289.18 160.00 289.00C166.28 288.82 174.75 288.58 177.70 288.50" fill="none" stroke="#111" stroke-width="1.70" stroke-linejoin="round" stroke-linecap="butt"/>
<path d="M110.00 295.80C110.33 295.80 111.50 295.30 112.00 295.80C112.50 296.30 112.50 299.77 113.00 298.80C113.50 297.83 114.25 292.55 115.00 290.00C115.75 287.45 116.67 284.97 117.50 283.50C118.33 282.03 119.08 281.20 120.00 281.20C120.92 281.20 122.08 282.28 123.00 283.50C123.92 284.72 124.72 286.83 125.50 288.50C126.28 290.17 126.87 292.17 127.70 293.50C128.53 294.83 129.48 295.75 130.50 296.50C131.52 297.25 130.55 297.83 133.80 298.00C137.05 298.17 142.68 297.70 150.00 297.50C157.32 297.30 173.08 296.92 177.70 296.80" fill="none" stroke="#b2b2b2" stroke-width="1.40" stroke-linejoin="round" stroke-linecap="butt"/>
<path d="M186.90 285.80C187.30 285.80 188.70 285.27 189.30 285.80C189.90 286.33 190.02 290.13 190.50 289.00C190.98 287.87 191.75 281.62 192.20 279.00C192.65 276.38 192.80 275.05 193.20 273.30C193.60 271.55 193.88 269.95 194.60 268.50C195.32 267.05 196.53 265.57 197.50 264.60C198.47 263.63 199.43 263.15 200.40 262.70C201.37 262.25 202.18 261.82 203.30 261.90C204.42 261.98 205.98 262.58 207.10 263.20C208.22 263.82 209.03 264.57 210.00 265.60C210.97 266.63 211.78 267.80 212.90 269.40C214.02 271.00 215.42 273.27 216.70 275.20C217.98 277.13 219.32 279.48 220.60 281.00C221.88 282.52 222.97 283.47 224.40 284.30C225.83 285.13 227.43 285.63 229.20 286.00C230.97 286.37 230.70 286.40 235.00 286.50C239.30 286.60 251.67 286.58 255.00 286.60" fill="none" stroke="#111" stroke-width="1.70" stroke-linejoin="round" stroke-linecap="butt"/>
<path d="M194.60 268.50C195.08 267.85 196.53 265.57 197.50 264.60C198.47 263.63 199.43 263.15 200.40 262.70C201.37 262.25 202.18 261.82 203.30 261.90C204.42 261.98 205.98 262.58 207.10 263.20C208.22 263.82 209.52 265.20 210.00 265.60" fill="none" stroke="#111" stroke-width="2.60" stroke-linejoin="round" stroke-linecap="butt"/>
<path d="M187.00 295.80C187.42 295.80 188.92 295.43 189.50 295.80C190.08 296.17 190.00 299.63 190.50 298.00C191.00 296.37 191.88 289.33 192.50 286.00C193.12 282.67 193.37 279.97 194.20 278.00C195.03 276.03 196.37 275.08 197.50 274.20C198.63 273.32 199.75 272.82 201.00 272.70C202.25 272.58 203.70 272.98 205.00 273.50C206.30 274.02 207.55 274.80 208.80 275.80C210.05 276.80 211.22 278.10 212.50 279.50C213.78 280.90 215.33 282.70 216.50 284.20C217.67 285.70 218.47 287.20 219.50 288.50C220.53 289.80 221.53 291.08 222.70 292.00C223.87 292.92 225.22 293.50 226.50 294.00C227.78 294.50 228.15 294.73 230.40 295.00C232.65 295.27 235.90 295.47 240.00 295.60C244.10 295.73 252.50 295.77 255.00 295.80" fill="none" stroke="#b2b2b2" stroke-width="1.40" stroke-linejoin="round" stroke-linecap="butt"/>
<text x="28.4" y="338.0" font-size="10.8" text-anchor="start" >0.01</text>
<text x="98.0" y="338.7" font-size="10.8" text-anchor="start" >0.025</text>
<text x="182.3" y="339.0" font-size="10.8" text-anchor="start" >0.1</text>
<line x1="35.0" y1="344.5" x2="35.0" y2="358.0" stroke="#333" stroke-width="1.2"/>
<path d="M33.0 357.2L37.0 357.2L35.0 360.7Z" fill="#111" stroke="#111" stroke-width="0.4" stroke-linejoin="round"/>
<line x1="111.9" y1="344.5" x2="111.9" y2="358.0" stroke="#333" stroke-width="1.2"/>
<path d="M109.9 357.2L113.9 357.2L111.9 360.7Z" fill="#111" stroke="#111" stroke-width="0.4" stroke-linejoin="round"/>
<line x1="190.0" y1="344.5" x2="190.0" y2="358.0" stroke="#333" stroke-width="1.2"/>
<path d="M188.0 357.2L192.0 357.2L190.0 360.7Z" fill="#111" stroke="#111" stroke-width="0.4" stroke-linejoin="round"/>
<path d="M31.20 369.50C31.67 369.47 33.03 369.38 34.00 369.30C34.97 369.22 36.00 368.97 37.00 369.00C38.00 369.03 38.42 369.42 40.00 369.50C41.58 369.58 44.83 369.75 46.50 369.50C48.17 369.25 48.45 368.95 50.00 368.00C51.55 367.05 54.13 364.97 55.80 363.80C57.47 362.63 58.72 361.68 60.00 361.00C61.28 360.32 61.67 360.25 63.50 359.70C65.33 359.15 68.25 358.10 71.00 357.70C73.75 357.30 75.10 357.38 80.00 357.30C84.90 357.22 97.00 357.22 100.40 357.20" fill="none" stroke="#b2b2b2" stroke-width="1.40" stroke-linejoin="round" stroke-linecap="butt"/>
<path d="M31.0 376.2L100.4 376.2" fill="none" stroke="#111" stroke-width="1.70" stroke-linejoin="round" stroke-linecap="butt"/>
<path d="M108.80 370.80C109.33 370.80 110.72 370.60 112.00 370.80C113.28 371.00 115.50 372.30 116.50 372.00C117.50 371.70 117.48 370.23 118.00 369.00C118.52 367.77 118.82 366.87 119.60 364.60C120.38 362.33 121.72 357.83 122.70 355.40C123.68 352.97 124.48 351.53 125.50 350.00C126.52 348.47 127.55 347.37 128.80 346.20C130.05 345.03 131.47 343.90 133.00 343.00C134.53 342.10 135.83 341.50 138.00 340.80C140.17 340.10 142.92 339.40 146.00 338.80C149.08 338.20 153.33 337.60 156.50 337.20C159.67 336.80 161.92 336.63 165.00 336.40C168.08 336.17 173.33 335.90 175.00 335.80" fill="none" stroke="#b2b2b2" stroke-width="1.40" stroke-linejoin="round" stroke-linecap="butt"/>
<path d="M109.20 378.20C109.50 378.17 110.28 378.17 111.00 378.00C111.72 377.83 112.45 377.00 113.50 377.20C114.55 377.40 116.02 379.23 117.30 379.20C118.58 379.17 120.17 377.87 121.20 377.00C122.23 376.13 122.73 375.03 123.50 374.00C124.27 372.97 124.97 371.80 125.80 370.80C126.63 369.80 127.48 368.90 128.50 368.00C129.52 367.10 130.65 366.15 131.90 365.40C133.15 364.65 134.45 364.02 136.00 363.50C137.55 362.98 139.07 362.58 141.20 362.30C143.33 362.02 145.67 361.80 148.80 361.80C151.93 361.80 155.63 362.10 160.00 362.30C164.37 362.50 172.50 362.88 175.00 363.00" fill="none" stroke="#111" stroke-width="1.70" stroke-linejoin="round" stroke-linecap="butt"/>
<path d="M187.00 369.00C187.42 369.00 188.83 368.45 189.50 369.00C190.17 369.55 190.42 373.47 191.00 372.30C191.58 371.13 192.33 365.33 193.00 362.00C193.67 358.67 194.42 354.80 195.00 352.30C195.58 349.80 196.00 348.55 196.50 347.00C197.00 345.45 196.97 344.42 198.00 343.00C199.03 341.58 200.63 339.83 202.70 338.50C204.77 337.17 207.35 335.98 210.40 335.00C213.45 334.02 216.65 333.18 221.00 332.60C225.35 332.02 230.83 331.73 236.50 331.50C242.17 331.27 251.92 331.25 255.00 331.20" fill="none" stroke="#111" stroke-width="1.70" stroke-linejoin="round" stroke-linecap="butt"/>
<path d="M187.00 377.20C187.42 377.20 188.75 377.07 189.50 377.20C190.25 377.33 190.75 379.87 191.50 378.00C192.25 376.13 193.17 369.77 194.00 366.00C194.83 362.23 195.57 358.32 196.50 355.40C197.43 352.48 198.05 350.30 199.60 348.50C201.15 346.70 203.57 345.62 205.80 344.60C208.03 343.58 210.47 343.03 213.00 342.40C215.53 341.77 217.33 341.23 221.00 340.80C224.67 340.37 229.33 340.07 235.00 339.80C240.67 339.53 251.67 339.30 255.00 339.20" fill="none" stroke="#b2b2b2" stroke-width="1.40" stroke-linejoin="round" stroke-linecap="butt"/>
<text x="33.6" y="419.9" font-size="10.8" text-anchor="start" >1</text>
<text x="101.5" y="420.2" font-size="10.8" text-anchor="start" >1.25</text>
<text x="182.3" y="420.2" font-size="10.8" text-anchor="start" >2.5</text>
<line x1="35.0" y1="424.9" x2="35.0" y2="438.5" stroke="#333" stroke-width="1.2"/>
<path d="M33.0 437.7L37.0 437.7L35.0 441.2Z" fill="#111" stroke="#111" stroke-width="0.4" stroke-linejoin="round"/>
<line x1="111.9" y1="424.9" x2="111.9" y2="438.5" stroke="#333" stroke-width="1.2"/>
<path d="M109.9 437.7L113.9 437.7L111.9 441.2Z" fill="#111" stroke="#111" stroke-width="0.4" stroke-linejoin="round"/>
<line x1="190.0" y1="424.9" x2="190.0" y2="438.5" stroke="#333" stroke-width="1.2"/>
<path d="M188.0 437.7L192.0 437.7L190.0 441.2Z" fill="#111" stroke="#111" stroke-width="0.4" stroke-linejoin="round"/>
<path d="M31.20 448.50C33.50 448.53 40.13 448.62 45.00 448.70C49.87 448.78 56.90 449.15 60.40 449.00C63.90 448.85 64.20 448.27 66.00 447.80C67.80 447.33 69.37 446.62 71.20 446.20C73.03 445.78 74.95 445.50 77.00 445.30C79.05 445.10 79.60 445.12 83.50 445.00C87.40 444.88 97.58 444.67 100.40 444.60" fill="none" stroke="#b2b2b2" stroke-width="1.40" stroke-linejoin="round" stroke-linecap="butt"/>
<path d="M31.00 456.20C33.33 456.25 39.58 456.33 45.00 456.50C50.42 456.67 57.67 457.17 63.50 457.20C69.33 457.23 73.85 456.87 80.00 456.70C86.15 456.53 97.00 456.28 100.40 456.20" fill="none" stroke="#111" stroke-width="1.70" stroke-linejoin="round" stroke-linecap="butt"/>
<path d="M109.20 449.50C111.83 449.50 121.37 449.55 125.00 449.50C128.63 449.45 129.50 449.48 131.00 449.20C132.50 448.92 133.00 448.53 134.00 447.80C135.00 447.07 135.80 446.35 137.00 444.80C138.20 443.25 140.03 440.13 141.20 438.50C142.37 436.87 142.98 436.03 144.00 435.00C145.02 433.97 146.13 433.05 147.30 432.30C148.47 431.55 149.47 430.97 151.00 430.50C152.53 430.03 154.17 429.80 156.50 429.50C158.83 429.20 161.92 428.92 165.00 428.70C168.08 428.48 173.33 428.28 175.00 428.20" fill="none" stroke="#b2b2b2" stroke-width="1.40" stroke-linejoin="round" stroke-linecap="butt"/>
<path d="M109.20 456.20C111.45 456.27 119.57 456.33 122.70 456.60C125.83 456.87 125.95 457.37 128.00 457.80C130.05 458.23 133.17 459.17 135.00 459.20C136.83 459.23 137.47 458.77 139.00 458.00C140.53 457.23 142.62 455.63 144.20 454.60C145.78 453.57 146.95 452.70 148.50 451.80C150.05 450.90 151.92 449.95 153.50 449.20C155.08 448.45 156.22 447.87 158.00 447.30C159.78 446.73 162.20 446.22 164.20 445.80C166.20 445.38 168.20 445.05 170.00 444.80C171.80 444.55 174.17 444.38 175.00 444.30" fill="none" stroke="#111" stroke-width="1.70" stroke-linejoin="round" stroke-linecap="butt"/>
<path d="M187.00 450.50C188.58 450.55 194.42 450.55 196.50 450.80C198.58 451.05 198.33 451.37 199.50 452.00C200.67 452.63 202.33 454.35 203.50 454.60C204.67 454.85 205.62 454.40 206.50 453.50C207.38 452.60 208.13 450.95 208.80 449.20C209.47 447.45 209.97 445.03 210.50 443.00C211.03 440.97 211.42 439.00 212.00 437.00C212.58 435.00 213.25 432.80 214.00 431.00C214.75 429.20 215.50 427.70 216.50 426.20C217.50 424.70 218.72 423.28 220.00 422.00C221.28 420.72 222.53 419.50 224.20 418.50C225.87 417.50 227.95 416.72 230.00 416.00C232.05 415.28 234.00 414.67 236.50 414.20C239.00 413.73 241.92 413.47 245.00 413.20C248.08 412.93 253.33 412.70 255.00 412.60" fill="none" stroke="#111" stroke-width="1.70" stroke-linejoin="round" stroke-linecap="butt"/>
<path d="M187.00 457.70C188.58 457.70 194.25 457.60 196.50 457.70C198.75 457.80 199.08 458.05 200.50 458.30C201.92 458.55 203.67 459.25 205.00 459.20C206.33 459.15 207.33 458.77 208.50 458.00C209.67 457.23 211.08 455.93 212.00 454.60C212.92 453.27 213.25 451.67 214.00 450.00C214.75 448.33 215.75 446.35 216.50 444.60C217.25 442.85 217.75 441.03 218.50 439.50C219.25 437.97 220.00 436.58 221.00 435.40C222.00 434.22 223.20 433.22 224.50 432.40C225.80 431.58 227.05 431.10 228.80 430.50C230.55 429.90 232.43 429.32 235.00 428.80C237.57 428.28 240.87 427.78 244.20 427.40C247.53 427.02 253.20 426.65 255.00 426.50" fill="none" stroke="#b2b2b2" stroke-width="1.40" stroke-linejoin="round" stroke-linecap="butt"/>
<text x="274.0" y="233.6" font-size="17.2" text-anchor="start" >C</text>
<rect x="398.7" y="246.7" width="9" height="8.8" fill="#0a0a0a"/>
<rect x="399.2" y="259.3" width="8" height="7.8" fill="#c8c8c8" stroke="#666" stroke-width="1"/>
<text x="410.0" y="255.0" font-size="10.5" text-anchor="start" >wt</text>
<text x="409.8" y="266.8" font-size="10.7" text-anchor="start" font-style="italic">RhoA</text>
<text x="438.4" y="262.6" font-size="6.6" text-anchor="start" style="stroke:none" font-style="italic">-/-</text>
<line x1="309.8" y1="299" x2="309.8" y2="418.3" stroke="#777" stroke-width="1.4"/>
<line x1="309.1" y1="417.8" x2="512" y2="417.8" stroke="#777" stroke-width="1.4"/>
<line x1="307" y1="417.8" x2="309.8" y2="417.8" stroke="#777" stroke-width="1"/>
<text x="305.3" y="422.5" font-size="10.0" text-anchor="end" >0</text>
<line x1="307" y1="394.1" x2="309.8" y2="394.1" stroke="#777" stroke-width="1"/>
<text x="305.3" y="398.8" font-size="10.0" text-anchor="end" >20</text>
<line x1="307" y1="370.4" x2="309.8" y2="370.4" stroke="#777" stroke-width="1"/>
<text x="305.3" y="375.1" font-size="10.0" text-anchor="end" >40</text>
<line x1="307" y1="346.6" x2="309.8" y2="346.6" stroke="#777" stroke-width="1"/>
<text x="305.3" y="351.3" font-size="10.0" text-anchor="end" >60</text>
<line x1="307" y1="322.9" x2="309.8" y2="322.9" stroke="#777" stroke-width="1"/>
<text x="305.3" y="327.6" font-size="10.0" text-anchor="end" >80</text>
<line x1="307" y1="299.2" x2="309.8" y2="299.2" stroke="#777" stroke-width="1"/>
<text x="305.3" y="303.9" font-size="10.0" text-anchor="end" >100</text>
<text x="284.6" y="358.5" font-size="11.0" text-anchor="middle" transform="rotate(-90 284.6 358.5)">% Aggregation</text>
<line x1="318.90" y1="319.80" x2="318.90" y2="313.30" stroke="#222" stroke-width="0.9"/>
<line x1="316.20" y1="313.30" x2="321.60" y2="313.30" stroke="#222" stroke-width="0.9"/>
<line x1="324.30" y1="326.90" x2="324.30" y2="316.50" stroke="#444" stroke-width="0.9"/>
<line x1="321.60" y1="316.50" x2="327.00" y2="316.50" stroke="#444" stroke-width="0.9"/>
<rect x="316.20" y="319.80" width="5.40" height="98.00" fill="#050505"/>
<rect x="322.00" y="327.30" width="4.60" height="90.50" fill="#c4c4c4" stroke="#555" stroke-width="0.8"/>
<line x1="339.32" y1="325.50" x2="339.32" y2="319.10" stroke="#222" stroke-width="0.9"/>
<line x1="336.62" y1="319.10" x2="342.02" y2="319.10" stroke="#222" stroke-width="0.9"/>
<line x1="344.72" y1="350.90" x2="344.72" y2="345.70" stroke="#444" stroke-width="0.9"/>
<line x1="342.02" y1="345.70" x2="347.42" y2="345.70" stroke="#444" stroke-width="0.9"/>
<rect x="336.62" y="325.50" width="5.40" height="92.30" fill="#050505"/>
<rect x="342.42" y="351.30" width="4.60" height="66.50" fill="#c4c4c4" stroke="#555" stroke-width="0.8"/>
<line x1="359.74" y1="329.80" x2="359.74" y2="316.50" stroke="#222" stroke-width="0.9"/>
<line x1="357.04" y1="316.50" x2="362.44" y2="316.50" stroke="#222" stroke-width="0.9"/>
<line x1="365.14" y1="337.20" x2="365.14" y2="328.90" stroke="#444" stroke-width="0.9"/>
<line x1="362.44" y1="328.90" x2="367.84" y2="328.90" stroke="#444" stroke-width="0.9"/>
<rect x="357.04" y="329.80" width="5.40" height="88.00" fill="#050505"/>
<rect x="362.84" y="337.60" width="4.60" height="80.20" fill="#c4c4c4" stroke="#555" stroke-width="0.8"/>
<line x1="380.16" y1="316.80" x2="380.16" y2="307.00" stroke="#222" stroke-width="0.9"/>
<line x1="377.46" y1="307.00" x2="382.86" y2="307.00" stroke="#222" stroke-width="0.9"/>
<line x1="385.56" y1="327.70" x2="385.56" y2="324.30" stroke="#444" stroke-width="0.9"/>
<line x1="382.86" y1="324.30" x2="388.26" y2="324.30" stroke="#444" stroke-width="0.9"/>
<rect x="377.46" y="316.80" width="5.40" height="101.00" fill="#050505"/>
<rect x="383.26" y="328.10" width="4.60" height="89.70" fill="#c4c4c4" stroke="#555" stroke-width="0.8"/>
<line x1="400.58" y1="325.10" x2="400.58" y2="318.20" stroke="#222" stroke-width="0.9"/>
<line x1="397.88" y1="318.20" x2="403.28" y2="318.20" stroke="#222" stroke-width="0.9"/>
<line x1="405.98" y1="378.20" x2="405.98" y2="366.60" stroke="#444" stroke-width="0.9"/>
<line x1="403.28" y1="366.60" x2="408.68" y2="366.60" stroke="#444" stroke-width="0.9"/>
<rect x="397.88" y="325.10" width="5.40" height="92.70" fill="#050505"/>
<rect x="403.68" y="378.60" width="4.60" height="39.20" fill="#c4c4c4" stroke="#555" stroke-width="0.8"/>
<line x1="421.00" y1="376.10" x2="421.00" y2="365.50" stroke="#222" stroke-width="0.9"/>
<line x1="418.30" y1="365.50" x2="423.70" y2="365.50" stroke="#222" stroke-width="0.9"/>
<line x1="426.40" y1="374.20" x2="426.40" y2="367.30" stroke="#444" stroke-width="0.9"/>
<line x1="423.70" y1="367.30" x2="429.10" y2="367.30" stroke="#444" stroke-width="0.9"/>
<rect x="418.30" y="376.10" width="5.40" height="41.70" fill="#050505"/>
<rect x="424.10" y="374.60" width="4.60" height="43.20" fill="#c4c4c4" stroke="#555" stroke-width="0.8"/>
<line x1="441.42" y1="332.00" x2="441.42" y2="319.10" stroke="#222" stroke-width="0.9"/>
<line x1="438.72" y1="319.10" x2="444.12" y2="319.10" stroke="#222" stroke-width="0.9"/>
<line x1="446.82" y1="340.70" x2="446.82" y2="326.70" stroke="#444" stroke-width="0.9"/>
<line x1="444.12" y1="326.70" x2="449.52" y2="326.70" stroke="#444" stroke-width="0.9"/>
<rect x="438.72" y="332.00" width="5.40" height="85.80" fill="#050505"/>
<rect x="444.52" y="341.10" width="4.60" height="76.70" fill="#c4c4c4" stroke="#555" stroke-width="0.8"/>
<line x1="461.84" y1="392.00" x2="461.84" y2="380.00" stroke="#222" stroke-width="0.9"/>
<line x1="459.14" y1="380.00" x2="464.54" y2="380.00" stroke="#222" stroke-width="0.9"/>
<line x1="467.24" y1="336.40" x2="467.24" y2="333.40" stroke="#444" stroke-width="0.9"/>
<line x1="464.54" y1="333.40" x2="469.94" y2="333.40" stroke="#444" stroke-width="0.9"/>
<rect x="459.14" y="392.00" width="5.40" height="25.80" fill="#050505"/>
<rect x="464.94" y="336.80" width="4.60" height="81.00" fill="#c4c4c4" stroke="#555" stroke-width="0.8"/>
<line x1="482.26" y1="337.50" x2="482.26" y2="322.20" stroke="#222" stroke-width="0.9"/>
<line x1="479.56" y1="322.20" x2="484.96" y2="322.20" stroke="#222" stroke-width="0.9"/>
<line x1="487.66" y1="350.40" x2="487.66" y2="335.40" stroke="#444" stroke-width="0.9"/>
<line x1="484.96" y1="335.40" x2="490.36" y2="335.40" stroke="#444" stroke-width="0.9"/>
<rect x="479.56" y="337.50" width="5.40" height="80.30" fill="#050505"/>
<rect x="485.36" y="350.80" width="4.60" height="67.00" fill="#c4c4c4" stroke="#555" stroke-width="0.8"/>
<line x1="502.68" y1="405.00" x2="502.68" y2="395.30" stroke="#222" stroke-width="0.9"/>
<line x1="499.98" y1="395.30" x2="505.38" y2="395.30" stroke="#222" stroke-width="0.9"/>
<line x1="508.08" y1="381.90" x2="508.08" y2="361.10" stroke="#444" stroke-width="0.9"/>
<line x1="505.38" y1="361.10" x2="510.78" y2="361.10" stroke="#444" stroke-width="0.9"/>
<rect x="499.98" y="405.00" width="5.40" height="12.80" fill="#050505"/>
<rect x="505.78" y="382.30" width="4.60" height="35.50" fill="#c4c4c4" stroke="#555" stroke-width="0.8"/>
<text x="341.4" y="310.0" font-size="10.5" text-anchor="middle" style="stroke-width:0.7px">***</text>
<line x1="336.2" y1="311.5" x2="347.4" y2="311.5" stroke="#555" stroke-width="1"/>
<text x="403.9" y="311.7" font-size="10.5" text-anchor="middle" style="stroke-width:0.7px">***</text>
<line x1="398.3" y1="313" x2="409.4" y2="313" stroke="#555" stroke-width="1.1"/>
<text x="464.8" y="325.3" font-size="10.5" text-anchor="middle" style="stroke-width:0.7px">**</text>
<line x1="459.4" y1="327" x2="470.5" y2="327" stroke="#555" stroke-width="1.1"/>
<text x="321.2" y="432.8" font-size="10.6" text-anchor="middle" >1</text>
<text x="342.0" y="432.8" font-size="10.6" text-anchor="middle" >0.5</text>
<text x="362.3" y="432.8" font-size="10.6" text-anchor="middle" >0.01</text>
<text x="382.8" y="432.8" font-size="10.6" text-anchor="middle" >2</text>
<text x="402.8" y="432.8" font-size="10.6" text-anchor="middle" >1</text>
<text x="423.9" y="432.8" font-size="10.6" text-anchor="middle" >5</text>
<text x="443.6" y="432.8" font-size="10.6" text-anchor="middle" >0.1</text>
<text x="465.8" y="432.8" font-size="10.6" text-anchor="middle" >0.025</text>
<text x="487.7" y="432.8" font-size="10.6" text-anchor="middle" >2.5</text>
<text x="506.8" y="432.8" font-size="10.6" text-anchor="middle" >1.25</text>
<line x1="316.2" y1="438.1" x2="347.7" y2="438.1" stroke="#999" stroke-width="1.3"/>
<line x1="352.7" y1="438.1" x2="371.2" y2="438.1" stroke="#999" stroke-width="1.3"/>
<line x1="377.0" y1="438.1" x2="408.2" y2="438.1" stroke="#999" stroke-width="1.3"/>
<line x1="415.0" y1="438.1" x2="432.3" y2="438.1" stroke="#999" stroke-width="1.3"/>
<line x1="439.7" y1="438.1" x2="470.4" y2="438.1" stroke="#999" stroke-width="1.3"/>
<line x1="482.7" y1="438.1" x2="514.3" y2="438.1" stroke="#999" stroke-width="1.3"/>
<text x="329.0" y="454.3" font-size="11.0" text-anchor="middle" >U46</text>
<text x="359.7" y="454.3" font-size="11.0" text-anchor="middle" >thr</text>
<text x="389.7" y="454.3" font-size="11.0" text-anchor="middle" >PAR</text>
<text x="421.4" y="454.3" font-size="11.0" text-anchor="middle" >ADP</text>
<text x="452.5" y="454.3" font-size="11.0" text-anchor="middle" >CRP</text>
<text x="497.8" y="454.3" font-size="11.0" text-anchor="middle" >coll</text>
<text x="329.0" y="468.3" font-size="11.0" text-anchor="middle" >[µM]</text>
<text x="359.7" y="468.3" font-size="11.0" text-anchor="middle" >[U/mL]</text>
<text x="389.9" y="468.3" font-size="11.0" text-anchor="middle" >[µM]</text>
<text x="420.8" y="468.3" font-size="11.0" text-anchor="middle" >[µM]</text>
<text x="479.5" y="468.3" font-size="11.0" text-anchor="middle" >[µg/mL]</text>
</svg>
</body></html>
